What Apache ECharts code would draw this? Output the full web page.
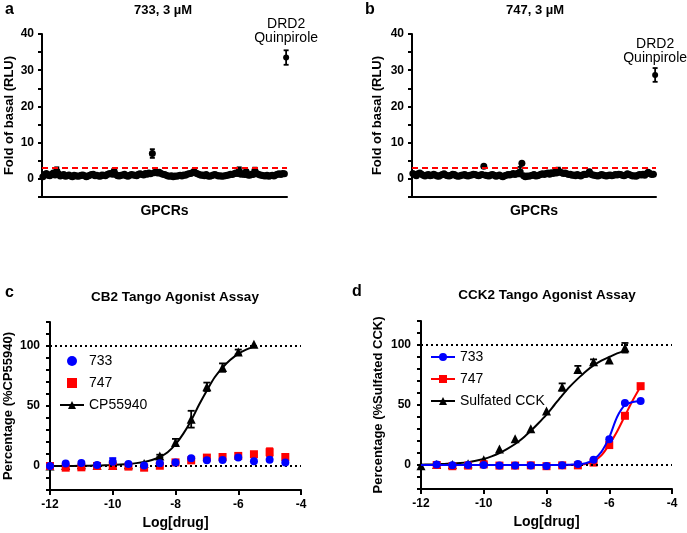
<!DOCTYPE html>
<html><head><meta charset="utf-8">
<script src="https://cdn.jsdelivr.net/npm/echarts@6/dist/echarts.min.js"></script>
<style>html,body{margin:0;padding:0;background:#fff}#c{width:687px;height:533px}</style>
</head><body><div id="c"></div>
<script>
// ---------- Panel a / b : GPCR screen (fold of basal) ----------
const gpcrA = [
0.6,1.2,1.5,1.0,0.9,1.3,1.6,1.1,2.2,1.4,0.8,1.0,1.2,0.7,0.9,1.1,0.8,0.6,1.0,0.9,
0.7,0.8,1.0,1.1,0.9,0.6,0.8,1.0,1.2,1.3,0.9,1.0,0.8,0.7,1.1,1.0,0.9,1.2,1.4,1.5,
1.3,2.1,1.2,0.9,0.8,1.0,1.1,1.3,0.9,0.7,1.0,1.2,1.1,1.0,0.9,1.3,1.4,1.2,1.1,1.5,
1.3,1.6,1.4,7.0,1.7,1.9,1.6,1.8,1.5,1.3,1.2,1.0,0.8,0.7,0.9,0.6,0.8,0.7,0.9,1.0,
0.8,1.1,1.0,1.3,1.4,1.5,1.7,2.0,1.6,1.4,1.2,1.0,1.1,0.9,1.2,0.8,0.7,0.9,1.1,1.2,
1.0,0.8,0.9,0.7,0.8,0.9,1.0,1.1,1.3,1.2,1.4,1.6,1.5,2.2,1.3,1.4,1.2,2.0,1.1,1.0,
1.3,1.2,2.3,1.5,1.3,1.1,1.0,0.9,0.8,1.0,0.7,0.9,1.0,0.8,1.1,1.3,1.4,1.2,1.5,1.4];
const gpcrAErrIdx = [8, 41, 63, 87, 113, 117, 122];
const gpcrAErr    = [1.0, 0.7, 1.2, 0.6, 1.0, 0.5, 0.8];
const drd2A = 33.5, drd2AErr = 2.0;

const gpcrB = [
1.5,1.2,0.9,1.4,1.6,1.3,1.0,0.8,1.1,1.2,0.9,1.0,1.3,1.1,0.8,0.7,1.0,1.2,1.4,1.1,
0.9,0.8,1.0,1.3,1.2,0.9,0.7,0.8,1.0,1.1,1.2,0.9,0.8,1.0,1.1,1.3,1.2,1.0,0.9,1.1,
1.2,3.5,1.0,0.9,0.8,1.1,1.2,1.0,0.7,0.9,1.1,0.8,0.6,0.9,1.0,1.2,1.1,1.3,1.5,1.2,
1.4,1.6,2.0,4.3,0.9,0.6,0.8,0.7,0.9,1.0,1.2,0.8,0.9,1.1,1.3,1.4,1.2,1.5,1.6,1.3,
1.7,1.5,1.8,1.6,2.3,1.9,1.7,1.5,1.6,1.4,1.2,1.3,1.0,1.1,0.9,1.2,1.0,0.8,1.1,1.3,
1.2,1.4,2.0,1.3,1.1,1.0,0.9,0.8,1.0,1.2,1.1,0.9,0.8,1.0,1.1,0.9,1.0,1.2,1.1,1.3,
1.2,1.0,0.9,1.1,1.4,1.2,1.0,0.8,0.9,0.7,1.0,1.2,1.1,1.3,1.0,1.4,1.8,1.5,1.2,1.3];
const gpcrBErrIdx = [62, 84, 102, 136];
const gpcrBErr    = [1.3, 0.8, 0.5, 0.4];
const drd2B = 28.7, drd2BErr = 1.9;
const thresholdFold = 3;

// ---------- Panel c : CB2 Tango ----------
const cX       = [-12,-11.5,-11,-10.5,-10,-9.5,-9,-8.5,-8,-7.5,-7,-6.5,-6,-5.5,-5,-4.5];
const c733     = [0,2,2.5,0.8,3.6,1.7,0.5,2.2,3,6.4,4.7,5,7,3.9,5.3,3];
const c733Err  = [0,0,0,0,3,0,0,0,0,0,0,0,0,0,0,0];
const c747     = [0,-1.4,-1.1,0,0,-0.5,-1.4,0.2,3,4.7,7,7.5,8.4,9.8,11.5,7.5];
const c747Err  = [0,0,0,0,2,0,0,0,0,0,0,0,0,0,3,0];
const cCPX     = [-12,-11.5,-11,-10.5,-10,-9.5,-9,-8.5,-8,-7.5,-7,-6.5,-6,-5.5];
const cCP      = [0,0.5,1,0.5,0.5,1,2,8.4,19.6,39,66,82,95,101.5];
const cCPErr   = [0,0,0,0,0,0,0,1,3,7,3.5,3.5,2,0];
const cCurveX  = [-12,-11.75,-11.5,-11.25,-11,-10.75,-10.5,-10.25,-10,-9.75,-9.5,-9.25,-9,-8.75,-8.5,-8.25,-8,-7.75,-7.5,-7.25,-7,-6.75,-6.5,-6.25,-6,-5.75,-5.5];
const cCurveCP = [0,0,0.1,0.1,0.2,0.3,0.4,0.6,0.8,1.2,1.7,2.4,3.4,5,7.5,11.5,18,27,38,51,63,74,82,88.5,93.5,97,99.5];

// ---------- Panel d : CCK2 Tango ----------
const dX        = [-11.5,-11,-10.5,-10,-9.5,-9,-8.5,-8,-7.5,-7,-6.5,-6,-5.5,-5];
const d733      = [0.5,-0.3,0,0,-0.5,-0.5,-0.5,-0.8,-0.2,0.8,4.4,21.5,51.6,53.3];
const d747      = [0,-1,-0.5,0.5,-0.5,-0.5,-0.3,-1,-0.3,-0.3,2,16.6,41,65.7];
const dCCKX     = [-12,-11.5,-11,-10.5,-10,-9.5,-9,-8.5,-8,-7.5,-7,-6.5,-6,-5.5];
const dCCK      = [-0.6,0.5,0.5,1,4.4,13.4,21.8,30.2,45,65,79.6,86,87.4,97.7];
const dCCKErr   = [0,0,0,0,0,0,0,0,0,3,3,2,0,4];
const dCurveX   = [-12,-11.75,-11.5,-11.25,-11,-10.75,-10.5,-10.25,-10,-9.75,-9.5,-9.25,-9,-8.75,-8.5,-8.25,-8,-7.75,-7.5,-7.25,-7,-6.75,-6.5,-6.25,-6,-5.75,-5.5,-5.25,-5];
const dCurveCCK = [0.3,0.4,0.6,0.9,1.2,1.7,2.4,3.5,5,7.2,10,13.5,17.5,22.5,28.5,35,42,50,58,65.5,72,78,83,87,90,93,95];
const dCurve733 = [0,0,0,0,0,0,0,0,0,0,0,0,0,0,0,0,0,0,0.1,0.3,0.6,1.5,4.5,11,23,40,50,52.5,53.3];
const dCurve747 = [0,0,0,0,0,0,0,0,0,0,0,0,0,0,0,0,0,0,0,0,0.1,0.8,3,8,17,28,41,54,65.5];
const refLines  = [0, 100];

// ---------- helpers ----------
const FONT = '"Liberation Sans", Arial, sans-serif';
const BLK = '#000';
function errSeries(xi, data, color, cap, lw) {
  return {
    type: 'custom', xAxisIndex: xi, yAxisIndex: xi, data: data, z: 4, silent: true,
    encode: {x: 0, y: 1},
    renderItem: function (params, api) {
      const x = api.value(0), y = api.value(1), e = api.value(2);
      const lo = api.coord([x, y - e]), hi = api.coord([x, y + e]);
      const st = {stroke: color, lineWidth: lw};
      return {type: 'group', children: [
        {type: 'line', shape: {x1: lo[0], y1: lo[1], x2: hi[0], y2: hi[1]}, style: st},
        {type: 'line', shape: {x1: lo[0] - cap, y1: lo[1], x2: lo[0] + cap, y2: lo[1]}, style: st},
        {type: 'line', shape: {x1: hi[0] - cap, y1: hi[1], x2: hi[0] + cap, y2: hi[1]}, style: st}
      ]};
    }
  };
}
function zip(xs, ys) { return xs.map((x, i) => [x, ys[i]]); }
function errData(xs, ys, es) { return xs.map((x, i) => [x, ys[i], es[i]]).filter(d => d[2] > 0); }

const axisLine = {show: true, onZero: false, lineStyle: {color: BLK, width: 2}};
const tickLbl = {color: BLK, fontFamily: FONT, fontWeight: 'bold', fontSize: 12};
const nameSt = {color: BLK, fontFamily: FONT, fontWeight: 'bold', fontSize: 13};

function gpcrX(gi) {
  return {type: 'value', gridIndex: gi, min: -0.5, max: 140.5, axisLine: axisLine,
    axisTick: {show: false}, axisLabel: {show: false}, splitLine: {show: false},
    name: 'GPCRs', nameLocation: 'middle', nameGap: 7,
    nameTextStyle: Object.assign({}, nameSt, {fontSize: 14})};
}
function gpcrY(gi, gap) {
  return {type: 'value', gridIndex: gi, min: -5, max: 40, interval: 5,
    axisLine: axisLine, axisTick: {show: true, length: 4, lineStyle: {color: BLK, width: 2}},
    axisLabel: Object.assign({}, tickLbl, {margin: 8, formatter: v => (v % 10 === 0 && v >= 0) ? String(v) : ''}),
    splitLine: {show: false},
    name: 'Fold of basal (RLU)', nameLocation: 'middle', nameGap: gap, nameTextStyle: nameSt};
}
function doseX(gi) {
  return {type: 'value', gridIndex: gi, min: -12, max: -4, interval: 2,
    axisLine: axisLine, axisTick: {show: true, length: 5, lineStyle: {color: BLK, width: 2}},
    axisLabel: Object.assign({}, tickLbl, {margin: 9}), splitLine: {show: false},
    name: 'Log[drug]', nameLocation: 'middle', nameGap: 26,
    nameTextStyle: Object.assign({}, nameSt, {fontSize: 14})};
}
function doseY(gi, name, gap) {
  return {type: 'value', gridIndex: gi, min: -20, max: 120, interval: 10,
    axisLine: axisLine, axisTick: {show: true, length: 4, lineStyle: {color: BLK, width: 2}},
    axisLabel: Object.assign({}, tickLbl, {margin: 10, formatter: v => (v === 0 || v === 50 || v === 100) ? String(v) : ''}),
    splitLine: {show: false},
    name: name, nameLocation: 'middle', nameGap: gap, nameTextStyle: nameSt};
}
function gpcrSeries(gi, vals, drd, drdErr, errIdx, errs, lblDist) {
  const pts = vals.map((v, i) => [i, v]);
  const ed = errIdx.map((k, j) => [k, vals[k], errs[j]]);
  ed.push([140, drd, drdErr]);
  return [
    {type: 'scatter', xAxisIndex: gi, yAxisIndex: gi, data: pts, symbol: 'circle', symbolSize: 7,
      itemStyle: {color: BLK, opacity: 1}, silent: true, z: 3,
      markLine: {silent: true, symbol: 'none', label: {show: false},
        lineStyle: {color: '#ff0000', type: [6, 4], width: 2},
        data: [{yAxis: thresholdFold}]}},
    {type: 'scatter', xAxisIndex: gi, yAxisIndex: gi, symbolSize: 6, itemStyle: {color: BLK, opacity: 1}, silent: true, z: 5,
      data: [{value: [140, drd], label: {show: true, position: 'top', distance: lblDist,
        formatter: 'DRD2\nQuinpirole', color: '#000', opacity: 1, fontFamily: FONT, fontSize: 14, lineHeight: 14}}]},
    errSeries(gi, ed, BLK, 2.5, 1.8)
  ];
}
function refMarkLine() {
  return {silent: true, symbol: 'none', label: {show: false},
    lineStyle: {color: BLK, type: [2, 3], width: 2},
    data: refLines.map(v => ({yAxis: v}))};
}
const squareIcon = 'path://M0 0H10V10H0Z';
const legendText = {color: BLK, fontFamily: FONT, fontSize: 14};

const option = {
  animation: false,
  backgroundColor: '#fff',
  grid: [
    {left: 42, top: 34, width: 245, height: 163},
    {left: 412, top: 34, width: 244, height: 163},
    {left: 50, top: 322, width: 251, height: 168},
    {left: 421, top: 321, width: 251, height: 168}
  ],
  xAxis: [gpcrX(0), gpcrX(1), doseX(2), doseX(3)],
  yAxis: [gpcrY(0, 26), gpcrY(1, 28), doseY(2, 'Percentage (%CP55940)', 35), doseY(3, 'Percentage (%Sulfated CCK)', 36)],
  legend: [
    {left: 54, top: 349, orient: 'vertical', itemWidth: 24, itemHeight: 10, itemGap: 8, symbolKeepAspect: true,
      textStyle: legendText, lineStyle: {opacity: 1, width: 2}, itemStyle: {opacity: 1},
      data: ['733', {name: '747', icon: squareIcon}, 'CP55940']},
    {left: 425, top: 345, orient: 'vertical', itemWidth: 24, itemHeight: 10, itemGap: 8,
      textStyle: legendText, lineStyle: {opacity: 1, width: 2}, itemStyle: {opacity: 1},
      data: ['733 ', '747 ', 'Sulfated CCK']}
  ],
  series: [].concat(
    gpcrSeries(0, gpcrA, drd2A, drd2AErr, gpcrAErrIdx, gpcrAErr, 9),
    gpcrSeries(1, gpcrB, drd2B, drd2BErr, gpcrBErrIdx, gpcrBErr, 7),
    [
      // panel c
      {type: 'line', xAxisIndex: 2, yAxisIndex: 2, data: zip(cCurveX, cCurveCP), smooth: 0.3, showSymbol: false,
        lineStyle: {color: BLK, width: 2}, silent: true, z: 2, markLine: refMarkLine()},
      {name: 'CP55940', type: 'line', xAxisIndex: 2, yAxisIndex: 2, data: zip(cCPX, cCP), symbol: 'triangle', symbolSize: 9,
        itemStyle: {color: BLK, opacity: 1}, lineStyle: {color: BLK, width: 2, opacity: 0}, silent: true, z: 3},
      errSeries(2, errData(cCPX, cCP, cCPErr), BLK, 3.5, 1.8),
      {name: '747', type: 'scatter', xAxisIndex: 2, yAxisIndex: 2, data: zip(cX, c747), symbol: 'rect', symbolSize: 8,
        itemStyle: {color: '#ff0000', opacity: 1}, silent: true, z: 4},
      errSeries(2, errData(cX, c747, c747Err), '#ff0000', 3.5, 2.5),
      {name: '733', type: 'scatter', xAxisIndex: 2, yAxisIndex: 2, data: zip(cX, c733), symbol: 'circle', symbolSize: 8,
        itemStyle: {color: '#0000ff', opacity: 1}, silent: true, z: 5},
      errSeries(2, errData(cX, c733, c733Err), '#0000ff', 3.5, 1.8),
      // panel d
      {type: 'line', xAxisIndex: 3, yAxisIndex: 3, data: zip(dCurveX.slice(0, dCurveCCK.length), dCurveCCK), smooth: 0.3, showSymbol: false,
        lineStyle: {color: BLK, width: 2}, silent: true, z: 2, markLine: refMarkLine()},
      {name: 'Sulfated CCK', type: 'line', xAxisIndex: 3, yAxisIndex: 3, data: zip(dCCKX, dCCK), symbol: 'triangle', symbolSize: 9,
        itemStyle: {color: BLK, opacity: 1}, lineStyle: {color: BLK, width: 2, opacity: 0}, silent: true, z: 3},
      errSeries(3, errData(dCCKX, dCCK, dCCKErr), BLK, 3.5, 1.8),
      {type: 'line', xAxisIndex: 3, yAxisIndex: 3, data: zip(dCurveX, dCurve747), smooth: 0.3, showSymbol: false,
        lineStyle: {color: '#ff0000', width: 2}, silent: true, z: 3},
      {name: '747 ', type: 'line', xAxisIndex: 3, yAxisIndex: 3, data: zip(dX, d747), symbol: 'rect', symbolSize: 8,
        itemStyle: {color: '#ff0000', opacity: 1}, lineStyle: {color: '#ff0000', width: 2, opacity: 0}, silent: true, z: 4},
      {type: 'line', xAxisIndex: 3, yAxisIndex: 3, data: zip(dCurveX, dCurve733), smooth: 0.3, showSymbol: false,
        lineStyle: {color: '#0000ff', width: 2}, silent: true, z: 5},
      {name: '733 ', type: 'line', xAxisIndex: 3, yAxisIndex: 3, data: zip(dX, d733), symbol: 'circle', symbolSize: 8,
        itemStyle: {color: '#0000ff', opacity: 1}, lineStyle: {color: '#0000ff', width: 2, opacity: 0}, silent: true, z: 6}
    ]
  ),
  graphic: [
    {type: 'text', x: 5, y: 10, style: {text: 'a', font: 'bold 16px ' + FONT, fill: BLK, verticalAlign: 'middle'}},
    {type: 'text', x: 365, y: 10, style: {text: 'b', font: 'bold 16px ' + FONT, fill: BLK, verticalAlign: 'middle'}},
    {type: 'text', x: 5, y: 293, style: {text: 'c', font: 'bold 16px ' + FONT, fill: BLK, verticalAlign: 'middle'}},
    {type: 'text', x: 352, y: 292, style: {text: 'd', font: 'bold 16px ' + FONT, fill: BLK, verticalAlign: 'middle'}},
    {type: 'text', x: 163, y: 10, style: {text: '733, 3 µM', font: 'bold 13px ' + FONT, fill: BLK, align: 'center', verticalAlign: 'middle'}},
    {type: 'text', x: 535, y: 10, style: {text: '747, 3 µM', font: 'bold 13px ' + FONT, fill: BLK, align: 'center', verticalAlign: 'middle'}},
    {type: 'text', x: 175, y: 297, style: {text: 'CB2 Tango Agonist Assay', font: 'bold 13.5px ' + FONT, fill: BLK, align: 'center', verticalAlign: 'middle'}},
    {type: 'text', x: 547, y: 295, style: {text: 'CCK2 Tango Agonist Assay', font: 'bold 13.5px ' + FONT, fill: BLK, align: 'center', verticalAlign: 'middle'}}
  ]
};
const chart = echarts.init(document.getElementById('c'), null, {renderer: 'canvas'});
chart.setOption(option);
</script>
</body></html>
